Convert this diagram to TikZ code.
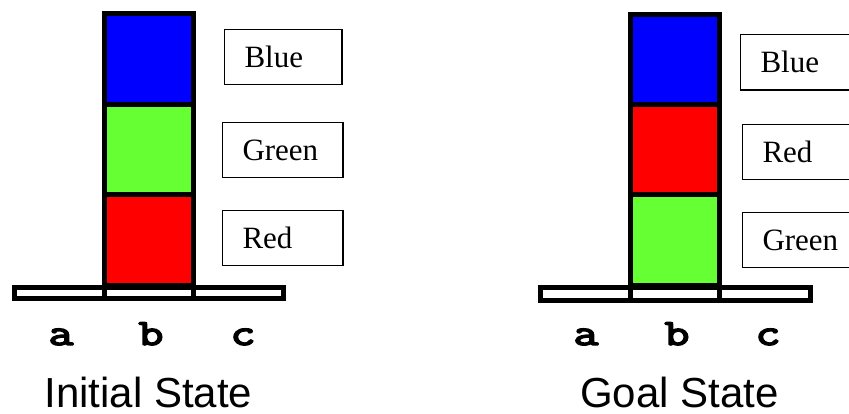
\documentclass[tikz,border=0pt]{standalone}
\usepackage{fontspec}
\newfontfamily\serifF{Liberation Serif}
\newfontfamily\courF[FakeBold=4]{Latin Modern Mono}
\newfontfamily\sansF{Liberation Sans}
\definecolor{bblue}{HTML}{0000FF}
\definecolor{bgreen}{HTML}{66FF33}
\definecolor{bred}{HTML}{FF0000}
\tikzset{
  block/.style={draw=black, line width=5pt, inner sep=0pt, minimum width=89pt, minimum height=90.6pt},
  basecell/.style={draw=black, line width=5pt, fill=white, inner sep=0pt, minimum height=11pt},
  lbl/.style={draw=black, line width=1.5pt, rectangle, anchor=north west, inner xsep=20pt, inner ysep=0pt,
     align=left, font=\serifF\fontsize{31}{36}\selectfont},
  poslabel/.style={anchor=base, font=\courF\fontsize{37}{40}\selectfont, inner sep=0pt, xscale=1.3},
  statetitle/.style={anchor=base, font=\sansF\fontsize{42}{46}\selectfont, inner sep=0pt}
}
\begin{document}
\begin{tikzpicture}[x=1pt, y=-1pt]
\useasboundingbox (0,0) rectangle (849,413);
\clip (0,0) rectangle (849,413);
% ---------- Initial state ----------
\node[basecell, minimum width=90pt] (ia) at (59.5,293) {};
\node[basecell, minimum width=89pt] (ib) at (149,293) {};
\node[basecell, minimum width=90pt] (ic) at (238.5,293) {};
\node[block, fill=bblue]  (iblue)  at (149,58.8) {};
\node[block, fill=bgreen] (igreen) at (149,149.6) {};
\node[block, fill=bred]   (ired)   at (149,240.2) {};
\node[lbl, minimum height=55pt, text width=77.5pt] (lb1) at (223.75,28.75) {Blue};
\node[lbl, minimum height=55pt, text width=80.5pt] (lg1) at (221.75,121.75) {Green};
\node[lbl, minimum height=55pt, text width=80.5pt] (lr1) at (221.75,209.75) {Red};
\node[poslabel] (pa1) at (61,345) {a};
\node[poslabel] (pb1) at (151,345) {b};
\node[poslabel] (pc1) at (243,345) {c};
\node[statetitle] (t1) at (148.5,407) {Initial State};
% ---------- Goal state ----------
\node[basecell, minimum width=89.5pt, minimum height=13pt] (ga) at (585.25,294) {};
\node[basecell, minimum width=89pt, minimum height=13pt] (gb) at (674.5,294) {};
\node[basecell, minimum width=91.5pt, minimum height=13pt] (gc) at (764.75,294) {};
\node[block, fill=bblue, minimum height=90.2pt]  (gblue)  at (674.5,59.6) {};
\node[block, fill=bred, minimum height=90.2pt]   (gred)   at (674.5,149.8) {};
\node[block, fill=bgreen, minimum height=90.2pt] (ggreen) at (674.5,240) {};
\node[lbl, minimum height=55.5pt, text width=82pt] (lb2) at (739.75,33.75) {Blue};
\node[lbl, minimum height=55pt, text width=82pt] (lr2) at (741.75,123.75) {Red};
\node[lbl, minimum height=55pt, text width=82pt] (lg2) at (741.75,211.75) {Green};
\node[poslabel] (pa2) at (586,345) {a};
\node[poslabel] (pb2) at (677,345) {b};
\node[poslabel] (pc2) at (768,345) {c};
\node[statetitle] (t2) at (679.5,407) {Goal State};
\end{tikzpicture}
\end{document}
